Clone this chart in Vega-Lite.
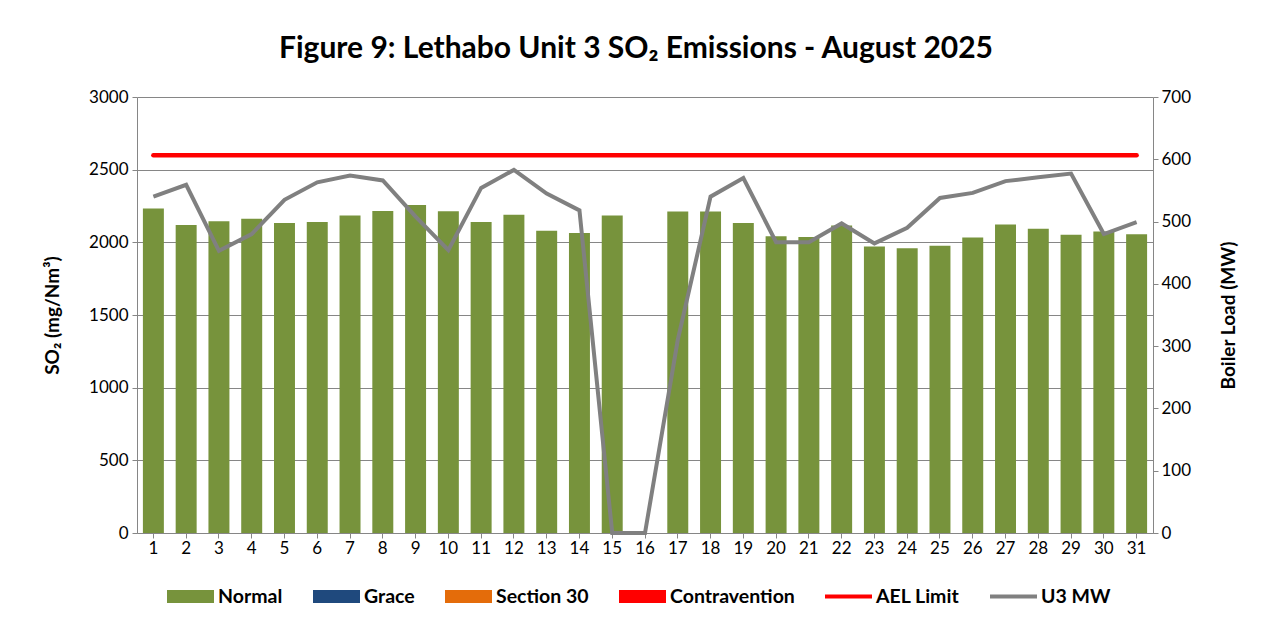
{
  "$schema": "https://vega.github.io/schema/vega-lite/v6.json",
  "width": 1016,
  "height": 436,
  "autosize": {"type": "none"},
  "padding": {"left": 137, "top": 97, "right": 108, "bottom": 97},
  "background": "white",
  "config": {"font": "Lato", "view": {"stroke": null}},
  "title": {"text": "Figure 9: Lethabo Unit 3 SO₂ Emissions - August 2025", "fontSize": 30, "fontWeight": "bold", "color": "black", "anchor": "middle", "dx": -9, "offset": 24},
  "data": {"values": [
    {"day": 1, "so2": 2232, "mw": 540, "ael": 2600},
    {"day": 2, "so2": 2120, "mw": 559, "ael": 2600},
    {"day": 3, "so2": 2145, "mw": 453, "ael": 2600},
    {"day": 4, "so2": 2163, "mw": 480, "ael": 2600},
    {"day": 5, "so2": 2133, "mw": 535, "ael": 2600},
    {"day": 6, "so2": 2140, "mw": 563, "ael": 2600},
    {"day": 7, "so2": 2184, "mw": 574, "ael": 2600},
    {"day": 8, "so2": 2216, "mw": 566, "ael": 2600},
    {"day": 9, "so2": 2257, "mw": 508, "ael": 2600},
    {"day": 10, "so2": 2214, "mw": 454, "ael": 2600},
    {"day": 11, "so2": 2140, "mw": 554, "ael": 2600},
    {"day": 12, "so2": 2189, "mw": 583, "ael": 2600},
    {"day": 13, "so2": 2080, "mw": 545, "ael": 2600},
    {"day": 14, "so2": 2064, "mw": 518, "ael": 2600},
    {"day": 15, "so2": 2184, "mw": 0, "ael": 2600},
    {"day": 16, "so2": null, "mw": 0, "ael": 2600},
    {"day": 17, "so2": 2212, "mw": 310, "ael": 2600},
    {"day": 18, "so2": 2212, "mw": 540, "ael": 2600},
    {"day": 19, "so2": 2133, "mw": 570, "ael": 2600},
    {"day": 20, "so2": 2041, "mw": 467, "ael": 2600},
    {"day": 21, "so2": 2037, "mw": 467, "ael": 2600},
    {"day": 22, "so2": 2115, "mw": 497, "ael": 2600},
    {"day": 23, "so2": 1972, "mw": 465, "ael": 2600},
    {"day": 24, "so2": 1959, "mw": 490, "ael": 2600},
    {"day": 25, "so2": 1977, "mw": 538, "ael": 2600},
    {"day": 26, "so2": 2034, "mw": 546, "ael": 2600},
    {"day": 27, "so2": 2122, "mw": 565, "ael": 2600},
    {"day": 28, "so2": 2094, "mw": 571, "ael": 2600},
    {"day": 29, "so2": 2053, "mw": 577, "ael": 2600},
    {"day": 30, "so2": 2074, "mw": 480, "ael": 2600},
    {"day": 31, "so2": 2055, "mw": 499, "ael": 2600}
  ]},
  "encoding": {
    "x": {
      "field": "day", "type": "ordinal",
      "scale": {"paddingInner": 0.36, "paddingOuter": 0.18},
      "axis": {"title": null, "labelAngle": 0, "labelFontSize": 17, "labelColor": "black", "domainColor": "#868686", "tickColor": "#868686", "tickSize": 5, "labelPadding": 2, "grid": false}
    }
  },
  "layer": [
    {
      "layer": [
        {
          "mark": {"type": "bar"},
          "encoding": {
            "y": {
              "field": "so2", "type": "quantitative",
              "scale": {"domain": [0, 3000], "nice": false},
              "axis": {"title": "SO₂  (mg/Nm³)", "format": "d", "values": [0, 500, 1000, 1500, 2000, 2500, 3000], "grid": true, "gridColor": "#868686", "gridOpacity": 1, "domainColor": "#868686", "tickColor": "#868686", "tickSize": 5, "labelFontSize": 17, "labelColor": "black", "labelPadding": 4, "titleFontSize": 19, "titleFontWeight": "bold", "titleColor": "black", "titleX": -85, "titleY": 218, "titleAngle": -90, "titleAlign": "center", "titleBaseline": "middle"}
            },
            "color": {
              "datum": "Normal", "type": "nominal",
              "scale": {"domain": ["Normal", "Grace", "Section 30", "Contravention", "AEL Limit", "U3 MW"], "range": ["#77933C", "#1F497D", "#E46C0A", "#FF0000", "#FF0000", "#808080"]},
              "legend": {
                "orient": "none", "legendX": 30, "legendY": 476, "direction": "horizontal", "title": null,
                "symbolSize": 2209, "symbolType": "M-1,-0.28H1V0.28H-1Z", "symbolStrokeWidth": 0,
                "labelFontSize": 19.5, "labelFontWeight": "bold", "labelColor": "black", "columnPadding": 30, "labelOffset": 4,
                "encode": {"symbols": {"update": {
                  "shape": {"signal": "datum.value === 'AEL Limit' || datum.value === 'U3 MW' ? 'M-1,-0.09H1V0.09H-1Z' : 'M-1,-0.28H1V0.28H-1Z'"},
                  "fill": {"signal": "scale('color', datum.value)"},
                  "fillOpacity": {"value": 1},
                  "strokeWidth": {"value": 0},
                  "opacity": {"value": 1}
                }}}
              }
            }
          }
        },
        {
          "mark": {"type": "line", "strokeWidth": 4.5, "strokeCap": "round"},
          "encoding": {
            "y": {"field": "ael", "type": "quantitative"},
            "color": {"datum": "AEL Limit", "type": "nominal"}
          }
        }
      ]
    },
    {
      "mark": {"type": "line", "strokeWidth": 4},
      "encoding": {
        "y": {
          "field": "mw", "type": "quantitative",
          "scale": {"domain": [0, 700], "nice": false},
          "axis": {"orient": "right", "title": "Boiler Load (MW)", "values": [0, 100, 200, 300, 400, 500, 600, 700], "grid": false, "domainColor": "#868686", "tickColor": "#868686", "tickSize": 5, "labelFontSize": 17, "labelColor": "black", "labelPadding": 3, "titleFontSize": 19, "titleFontWeight": "bold", "titleColor": "black", "titleX": 75, "titleY": 218, "titleAngle": -90, "titleAlign": "center", "titleBaseline": "middle"}
        },
        "color": {"datum": "U3 MW", "type": "nominal"}
      }
    }
  ],
  "resolve": {"scale": {"y": "independent"}}
}
